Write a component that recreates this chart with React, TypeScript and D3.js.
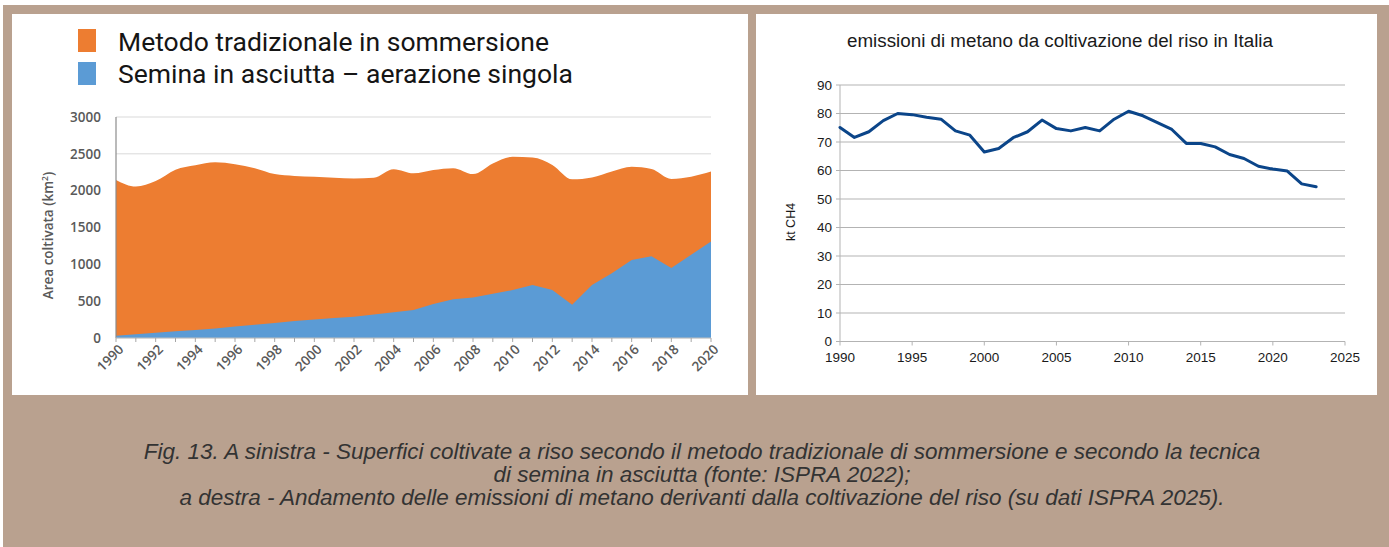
import React from 'react';
import * as d3 from 'd3';

// ---------- Left chart data (km²) ----------
const areaYears = [1990, 1991, 1992, 1993, 1994, 1995, 1996, 1997, 1998, 1999, 2000, 2001, 2002, 2003, 2004, 2005, 2006, 2007, 2008, 2009, 2010, 2011, 2012, 2013, 2014, 2015, 2016, 2017, 2018, 2019, 2020];
const traditional = [2115, 2005, 2060, 2195, 2235, 2255, 2205, 2125, 2020, 1970, 1940, 1905, 1875, 1855, 1940, 1855, 1820, 1780, 1675, 1770, 1810, 1730, 1700, 1705, 1460, 1380, 1265, 1185, 1210, 1060, 950];
const drySeeding = [30, 50, 70, 90, 110, 130, 155, 180, 205, 230, 250, 270, 290, 320, 350, 380, 460, 525, 550, 600, 650, 720, 650, 450, 720, 880, 1060, 1110, 950, 1130, 1310];
const areaYTicks = [0, 500, 1000, 1500, 2000, 2500, 3000];
const areaXTicks = [1990, 1992, 1994, 1996, 1998, 2000, 2002, 2004, 2006, 2008, 2010, 2012, 2014, 2016, 2018, 2020];
const legendLabels = ['Metodo tradizionale in sommersione', 'Semina in asciutta – aerazione singola'];

// ---------- Right chart data (kt CH4) ----------
const emissionYears = [1990, 1991, 1992, 1993, 1994, 1995, 1996, 1997, 1998, 1999, 2000, 2001, 2002, 2003, 2004, 2005, 2006, 2007, 2008, 2009, 2010, 2011, 2012, 2013, 2014, 2015, 2016, 2017, 2018, 2019, 2020, 2021, 2022, 2023];
const methane = [75.1, 71.6, 73.6, 77.5, 80.0, 79.6, 78.7, 78.0, 73.9, 72.4, 66.5, 67.7, 71.5, 73.6, 77.7, 74.7, 73.9, 75.1, 73.9, 78.0, 80.8, 79.2, 76.8, 74.4, 69.5, 69.5, 68.3, 65.6, 64.2, 61.5, 60.5, 59.8, 55.3, 54.3];
const emYTicks = [0, 10, 20, 30, 40, 50, 60, 70, 80, 90];
const emXTicks = [1990, 1995, 2000, 2005, 2010, 2015, 2020, 2025];

const captionLines = [
  'Fig. 13. A sinistra - Superfici coltivate a riso secondo il metodo tradizionale di sommersione e secondo la tecnica',
  'di semina in asciutta (fonte: ISPRA 2022);',
  'a destra - Andamento delle emissioni di metano derivanti dalla coltivazione del riso (su dati ISPRA 2025).',
];

const ORANGE = '#ED7D31';
const BLUE = '#5B9BD5';
const TAN = '#b9a18f';

export default function App() {
  // left chart scales
  const lx = d3.scaleLinear().domain([1990, 2020]).range([116, 711]);
  const ly = d3.scaleLinear().domain([0, 3000]).range([338, 117]);

  const rows = areaYears.map((y, i) => ({ year: y, dry: drySeeding[i], trad: traditional[i] }));
  const stacked = d3.stack<any>().keys(['dry', 'trad'])(rows);
  const topLayer = stacked[1];
  const bottomLayer = stacked[0];

  const orangeArea = d3
    .area<any>()
    .x((d) => lx(d.data.year))
    .y0(ly(0))
    .y1((d) => ly(d[1]))
    .curve(d3.curveMonotoneX)(topLayer as any);
  const blueArea = d3
    .area<any>()
    .x((d) => lx(d.data.year))
    .y0(ly(0))
    .y1((d) => ly(d[1]))
    .curve(d3.curveLinear)(bottomLayer as any);

  // right chart scales
  const rx = d3.scaleLinear().domain([1990, 2025]).range([840, 1345]);
  const ry = d3.scaleLinear().domain([0, 90]).range([341.5, 85]);
  const linePath = d3
    .line<number>()
    .x((_, i) => rx(emissionYears[i]))
    .y((d) => ry(d))(methane);

  const tickFont = "'Open Sans', sans-serif";
  const libFont = "'Liberation Sans', Arial, sans-serif";

  return (
    <div style={{ position: 'absolute', left: 0, top: 0 }}>
      <svg width={1389} height={547} style={{ display: 'block' }}>
        <rect x={0} y={0} width={1389} height={547} fill="#ffffff" />
        <rect x={3} y={5} width={1386} height={542} fill={TAN} />
        {/* panels */}
        <rect x={12} y={14} width={736} height={381} fill="#ffffff" />
        <rect x={756} y={14} width={621} height={381} fill="#ffffff" />

        {/* ---------- LEFT CHART ---------- */}
        <g>
          {/* legend */}
          {legendLabels.map((lab, i) => (
            <g key={lab}>
              <rect x={78} y={29 + i * 33} width={18} height={23} fill={i === 0 ? ORANGE : BLUE} />
              <text
                x={118}
                y={51 + i * 32}
                fontFamily="Roboto, sans-serif"
                fontSize={26.5}
                fill="#151515"
              >
                {lab}
              </text>
            </g>
          ))}
          {/* gridlines */}
          {areaYTicks.map((t) => (
            <line key={t} x1={lx(1990)} x2={lx(2020)} y1={ly(t)} y2={ly(t)} stroke="#d9d9d9" strokeWidth={1} />
          ))}
          <path d={orangeArea || ''} fill={ORANGE} />
          <path d={blueArea || ''} fill={BLUE} />
          {/* axes */}
          <line x1={lx(1990)} x2={lx(1990)} y1={ly(3000)} y2={ly(0)} stroke="#8c8c8c" strokeWidth={1.2} />
          <line x1={lx(1990)} x2={lx(2020)} y1={ly(0)} y2={ly(0)} stroke="#bfbfbf" strokeWidth={1} />
          {areaYears.map((yr) => (
            <line key={yr} x1={lx(yr)} x2={lx(yr)} y1={ly(0)} y2={ly(0) + 4} stroke="#a6a6a6" strokeWidth={1} />
          ))}
          {areaYTicks.map((t) => (
            <text
              key={t}
              x={101}
              y={ly(t)}
              dy="0.35em"
              textAnchor="end"
              fontFamily={tickFont}
              fontSize={13.5}
              fontWeight={600}
              fill="#595959"
            >
              {t}
            </text>
          ))}
          {areaXTicks.map((t) => (
            <text
              key={t}
              transform={`translate(${lx(t) + 5},${ly(0) + 9}) rotate(-45)`}
              dy="0.35em"
              textAnchor="end"
              fontFamily={tickFont}
              fontSize={13.5}
              fontWeight={600}
              fill="#595959"
            >
              {t}
            </text>
          ))}
          <text
            transform={`translate(53,${(ly(0) + ly(3000)) / 2 + 8}) rotate(-90)`}
            textAnchor="middle"
            fontFamily={tickFont}
            fontSize={13.5}
            fontWeight={600}
            fill="#595959"
          >
            Area coltivata (km
            <tspan fontSize={8.5} dy={-5}>2</tspan>
            <tspan dy={5}>)</tspan>
          </text>
        </g>

        {/* ---------- RIGHT CHART ---------- */}
        <g>
          <text
            x={1060}
            y={47}
            textAnchor="middle"
            fontFamily={libFont}
            fontSize={18.8}
            fill="#1a1a1a"
          >
            emissioni di metano da coltivazione del riso in Italia
          </text>
          {emYTicks.map((t) => (
            <g key={t}>
              <line x1={rx(1990) - 4} x2={rx(2025)} y1={ry(t)} y2={ry(t)} stroke="#b3b3b3" strokeWidth={1} />
              <text
                x={rx(1990) - 8}
                y={ry(t)}
                dy="0.35em"
                textAnchor="end"
                fontFamily={libFont}
                fontSize={13.5}
                fill="#1a1a1a"
              >
                {t}
              </text>
            </g>
          ))}
          <line x1={rx(1990)} x2={rx(1990)} y1={ry(90)} y2={ry(0)} stroke="#b3b3b3" strokeWidth={1} />
          {emXTicks.map((t) => (
            <g key={t}>
              <line x1={rx(t)} x2={rx(t)} y1={ry(0)} y2={ry(0) + 4} stroke="#b3b3b3" strokeWidth={1} />
              <text
                x={rx(t)}
                y={ry(0) + 20}
                textAnchor="middle"
                fontFamily={libFont}
                fontSize={13.5}
                fill="#1a1a1a"
              >
                {t}
              </text>
            </g>
          ))}
          <text
            transform={`translate(795,222) rotate(-90)`}
            textAnchor="middle"
            fontFamily={libFont}
            fontSize={12.5}
            fill="#1a1a1a"
          >
            kt CH4
          </text>
          <path d={linePath || ''} fill="none" stroke="#0b4589" strokeWidth={3} strokeLinejoin="round" strokeLinecap="round" />
        </g>

        {/* ---------- CAPTION ---------- */}
        {captionLines.map((l, i) => (
          <text
            key={i}
            x={702}
            y={459 + i * 23}
            textAnchor="middle"
            fontFamily={libFont}
            fontStyle="italic"
            fontSize={22.5}
            fill="#333333"
          >
            {l}
          </text>
        ))}
      </svg>
    </div>
  );
}
